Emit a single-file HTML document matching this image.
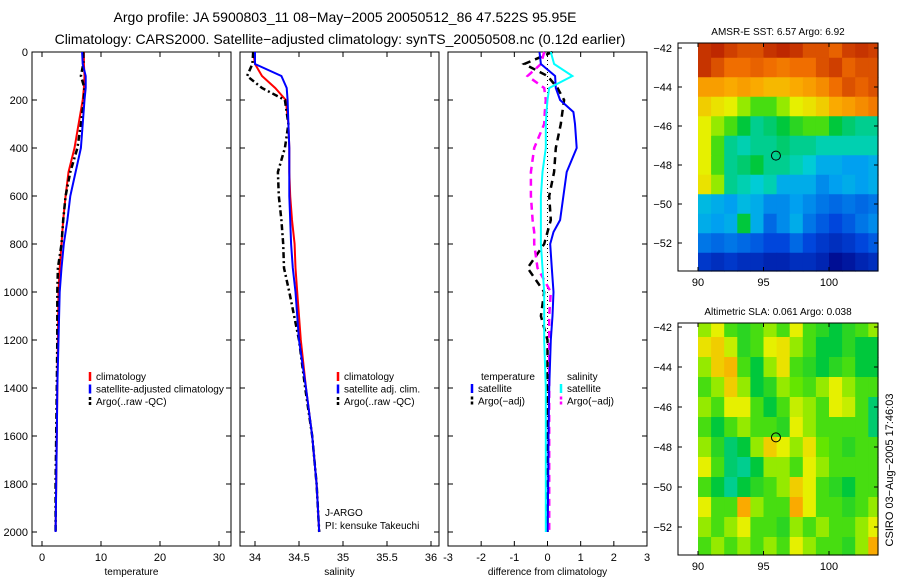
<!DOCTYPE html>
<html><head><meta charset="utf-8"><style>
body{margin:0;background:#fff}
svg text{font-family:"Liberation Sans",sans-serif;fill:#000}
</style></head><body>
<svg id="c" width="900" height="580" xmlns="http://www.w3.org/2000/svg">
<text x="345" y="22" font-size="14" text-anchor="middle">Argo profile: JA 5900803_11 08−May−2005 20050512_86 47.522S 95.95E</text>
<text x="340" y="44" font-size="14" text-anchor="middle">Climatology: CARS2000. Satellite−adjusted climatology: synTS_20050508.nc (0.12d earlier)</text>
<g id="g"></g>
</svg>
<script>
const depths=[0,50,100,150,200,300,400,500,600,700,800,900,1000,1200,1400,1600,1800,2000];
const tempClim=[7.1,7.1,7.2,7.1,6.9,6.2,5.5,4.5,4.0,3.6,3.3,3.0,2.8,2.7,2.6,2.5,2.4,2.3];
const tempSat=[6.8,6.9,7.4,7.4,7.2,6.9,6.6,5.7,4.8,4.3,3.7,3.3,3.0,2.8,2.6,2.5,2.4,2.3];
const tempArgo=[7.0,7.0,6.6,7.2,7.1,6.6,6.0,4.8,4.0,3.6,3.3,2.7,2.6,2.6,2.5,2.4,2.3,2.3];
const salClim=[33.98,34.0,34.08,34.23,34.35,34.38,34.39,34.39,34.4,34.42,34.45,34.46,34.48,34.52,34.58,34.65,34.7,34.73];
const salSat=[34.0,34.0,34.3,34.36,34.37,34.38,34.39,34.39,34.39,34.4,34.41,34.43,34.46,34.5,34.58,34.65,34.7,34.73];
const salArgo=[33.98,33.97,33.91,34.08,34.34,34.38,34.34,34.26,34.27,34.3,34.32,34.33,34.39,34.5,34.57,34.65,34.7,34.73];
const diffDepths=[0,50,100,150,200,250,300,400,500,600,700,750,800,900,1000,1100,1200,1400,1600,1800,2000];
const dTempSat=[-0.24,-0.2,0.23,0.25,0.38,0.78,0.83,0.88,0.58,0.48,0.38,0.18,0.08,0.13,0.18,0.15,0.1,0.05,0.03,0.02,0.0];
const dTempArgo=[0.15,-0.7,0.0,0.3,0.5,0.45,0.4,0.25,0.2,0.05,0.1,0.0,-0.1,-0.6,-0.1,-0.2,0.0,0.0,0.0,0.0,0.0];
const dSalSat=[0.1,0.2,0.75,0.05,0.0,-0.03,-0.05,-0.05,-0.15,-0.2,-0.2,-0.2,-0.2,-0.15,-0.1,-0.1,-0.1,-0.05,-0.05,-0.05,-0.05];
const dSalArgo=[-0.1,-0.2,-0.6,-0.1,-0.05,-0.08,-0.1,-0.4,-0.5,-0.5,-0.45,-0.4,-0.4,-0.3,0.1,0.05,0.05,0.05,0.05,0.05,0.05];
const depthTicks=[0,200,400,600,800,1000,1200,1400,1600,1800,2000];
const tempTicks=[0,10,20,30];
const salTicks=[34,34.5,35,35.5,36];
const salTickLabels=["34","34.5","35","35.5","36"];
const diffTicks=[-3,-2,-1,0,1,2,3];
const lonTicks=[90,95,100];
const latTicks=[-42,-44,-46,-48,-50,-52];
const sstGrid=[
[.9,.92,.88,.85,.85,.9,.92,.9,.85,.85,.82,.88,.9,.88],
[.9,.85,.8,.8,.82,.8,.78,.8,.8,.85,.88,.82,.85,.85],
[.72,.72,.7,.72,.7,.68,.68,.7,.72,.75,.8,.85,.82,.85],
[.65,.62,.6,.55,.5,.5,.55,.6,.62,.65,.7,.72,.75,.78],
[.6,.55,.5,.45,.4,.42,.45,.48,.5,.5,.45,.42,.4,.4],
[.6,.5,.4,.38,.4,.4,.42,.4,.4,.38,.38,.38,.38,.38],
[.6,.5,.4,.42,.45,.4,.4,.38,.35,.3,.3,.28,.28,.3],
[.62,.55,.4,.38,.35,.38,.3,.3,.3,.25,.28,.3,.28,.3],
[.32,.3,.28,.32,.3,.25,.25,.28,.25,.22,.2,.22,.2,.22],
[.3,.28,.3,.45,.3,.2,.25,.3,.22,.18,.15,.18,.22,.25],
[.22,.2,.22,.2,.18,.15,.15,.2,.15,.12,.1,.12,.15,.18],
[.12,.1,.12,.1,.1,.08,.08,.1,.1,.08,.03,.05,.08,.1]];
const slaGrid=[
[.55,.6,.5,.48,.5,.55,.5,.6,.5,.48,.45,.48,.5,.55],
[.62,.65,.58,.48,.5,.6,.62,.55,.5,.45,.45,.48,.45,.45],
[.55,.65,.68,.5,.45,.55,.62,.5,.48,.45,.48,.5,.45,.45],
[.5,.55,.65,.55,.45,.48,.55,.52,.5,.55,.6,.55,.5,.5],
[.55,.5,.6,.6,.5,.45,.5,.58,.55,.5,.6,.58,.5,.42],
[.5,.45,.5,.55,.5,.5,.48,.6,.55,.5,.5,.5,.5,.42],
[.55,.48,.42,.45,.55,.65,.6,.55,.62,.52,.5,.48,.5,.5],
[.6,.5,.42,.4,.45,.55,.55,.5,.6,.55,.5,.5,.5,.5],
[.5,.45,.4,.45,.48,.5,.55,.65,.6,.5,.48,.45,.5,.5],
[.6,.5,.5,.7,.55,.5,.5,.7,.6,.5,.5,.48,.5,.55],
[.55,.5,.55,.6,.5,.5,.48,.55,.5,.55,.5,.5,.55,.6],
[.5,.55,.5,.55,.5,.55,.5,.6,.55,.5,.5,.48,.55,.7]];
const argoLon=95.95, argoLat=-47.52;

const NS='http://www.w3.org/2000/svg';
const G=document.getElementById('g');
function mk(t,a,p){const e=document.createElementNS(NS,t);for(const k in a)e.setAttribute(k,a[k]);(p||G).appendChild(e);return e;}
function lin(d0,d1,r0,r1){return v=>r0+(v-d0)*(r1-r0)/(d1-d0);}
const Y=lin(0,2000,52,532);
const TOP=52,BOT=546;

function panel(name,x0,x1,X,ticks,labels,xlabel,leftLabels){
  const g=mk('g',{});
  
  
  mk('rect',{x:x0,y:TOP,width:x1-x0,height:BOT-TOP,fill:'none',stroke:'#000','stroke-width':1},g);
  ticks.forEach((t,i)=>{const x=X(t);
    mk('line',{x1:x,x2:x,y1:TOP,y2:TOP+5,stroke:'#000'},g);
    mk('line',{x1:x,x2:x,y1:BOT,y2:BOT-5,stroke:'#000'},g);
    const tx=mk('text',{x:x,y:BOT+15,'font-size':11,'text-anchor':'middle'},g);tx.textContent=labels[i];
    
    
  });
  depthTicks.forEach(d=>{const y=Y(d);
    mk('line',{x1:x0,x2:x0+5,y1:y,y2:y,stroke:'#000'},g);
    mk('line',{x1:x1,x2:x1-5,y1:y,y2:y,stroke:'#000'},g);
    if(leftLabels){const t=mk('text',{x:x0-4,y:y+4,'font-size':11,'text-anchor':'end'},g);t.textContent=d;
      
      }
  });
  const xl=mk('text',{x:(x0+x1)/2,y:BOT+29,'font-size':10,'text-anchor':'middle'},g);xl.textContent=xlabel;
  
  
  return g;
}
function series(g,name,vals,dep,X,Yf,color,w,dash){
  const pts=vals.map((v,i)=>X(v).toFixed(1)+','+Yf(dep[i]).toFixed(1)).join(' ');
  const p=mk('polyline',{points:pts,fill:'none',stroke:color,'stroke-width':w},g);
  if(dash)p.setAttribute('stroke-dasharray',dash);
  
  
}
function legend(g,items,lx,ty){
  items.forEach((it,i)=>{const y=ty+i*12.5;
    const l=mk('line',{x1:lx,x2:lx,y1:y-8,y2:y+1,stroke:it[1],'stroke-width':2.5},g);
    if(it[2])l.setAttribute('stroke-dasharray','3,2');
    const t=mk('text',{x:lx+6,y:y,'font-size':10},g);t.textContent=it[0];
    
    
  });
}
const X1=lin(0,30,42,219);
const g1=panel('temperature-panel',32,231,X1,tempTicks,tempTicks.map(String),'temperature',true);
series(g1,'temp-climatology-line',tempClim,depths,X1,Y,'#f00',2);
series(g1,'temp-argo-line',tempArgo,depths,X1,Y,'#000',2.5,'6,3,2,3');
series(g1,'temp-satellite-line',tempSat,depths,X1,Y,'#00f',2);
legend(g1,[['climatology','#f00'],['satellite-adjusted climatology','#00f'],['Argo(..raw -QC)','#000',1]],90,380);
const X2=lin(34,36,255,431);
const g2=panel('salinity-panel',240,439,X2,salTicks,salTickLabels,'salinity',false);
series(g2,'sal-climatology-line',salClim,depths,X2,Y,'#f00',2);
series(g2,'sal-argo-line',salArgo,depths,X2,Y,'#000',2.5,'6,3,2,3');
series(g2,'sal-satellite-line',salSat,depths,X2,Y,'#00f',2);
legend(g2,[['climatology','#f00'],['satellite adj. clim.','#00f'],['Argo(..raw -QC)','#000',1]],338,380);
let t=mk('text',{x:325,y:516,'font-size':10},g2);t.textContent='J-ARGO';


t=mk('text',{x:325,y:529,'font-size':10},g2);t.textContent='PI: kensuke Takeuchi';


const X3=lin(-3,3,448,647);
const g3=panel('difference-panel',448,647,X3,diffTicks,diffTicks.map(String),'difference from climatology',false);
mk('line',{x1:X3(0),x2:X3(0),y1:TOP,y2:Y(2000),stroke:'#000','stroke-dasharray':'1,3'},g3);
series(g3,'diff-temp-argo-line',dTempArgo,diffDepths,X3,Y,'#000',2.5,'7,5');
series(g3,'diff-sal-argo-line',dSalArgo,diffDepths,X3,Y,'#f0f',2.5,'7,5');
series(g3,'diff-temp-satellite-line',dTempSat,diffDepths,X3,Y,'#00f',2);
series(g3,'diff-sal-satellite-line',dSalSat,diffDepths,X3,Y,'#0ff',2);
t=mk('text',{x:481,y:380,'font-size':10},g3);t.textContent='temperature';


t=mk('text',{x:567,y:380,'font-size':10},g3);t.textContent='salinity';


legend(g3,[['satellite','#00f'],['Argo(−adj)','#000',1]],472,392);
legend(g3,[['satellite','#0ff'],['Argo(−adj)','#f0f',1]],561,392);

const CMAP=[[0,[0,0,130]],[0.15,[0,70,220]],[0.28,[0,160,240]],[0.36,[0,210,210]],[0.45,[0,200,60]],[0.52,[100,230,0]],[0.6,[230,240,0]],[0.7,[250,170,0]],[0.8,[240,110,0]],[0.92,[190,40,0]],[1,[150,0,0]]];
function cmap(v){for(let i=1;i<CMAP.length;i++){if(v<=CMAP[i][0]){const a=CMAP[i-1],b=CMAP[i],f=(v-a[0])/(b[0]-a[0]);
  return 'rgb('+a[1].map((c,k)=>Math.round(c+(b[1][k]-c)*f)).join(',')+')';}}return 'rgb(150,0,0)';}
function map(name,grid,y0,y1,lat42,lat52,title){
  const g=mk('g',{});
  
  
  const LX=lin(90,100,698,829), LY=lin(-42,-52,lat42,lat52);
  const x0=678,x1=878;
  grid.forEach((row,j)=>row.forEach((v,i)=>{
    const xa=LX(90+i), xb=Math.min(x1,LX(91+i));
    const ya=Math.max(y0,LY(-41.5-j)), yb=Math.min(y1,LY(-42.5-j));
    const r=mk('rect',{x:xa,y:ya,width:xb-xa+0.6,height:yb-ya+0.6,fill:cmap(v)},g);
    
    
  }));
  mk('rect',{x:x0,y:y0,width:x1-x0,height:y1-y0,fill:'none',stroke:'#000'},g);
  lonTicks.forEach(l=>{const x=LX(l);
    mk('line',{x1:x,x2:x,y1:y0,y2:y0+4,stroke:'#000'},g);mk('line',{x1:x,x2:x,y1:y1,y2:y1-4,stroke:'#000'},g);
    const tt=mk('text',{x:x,y:y1+15,'font-size':11,'text-anchor':'middle'},g);tt.textContent=l;
    
    });
  latTicks.forEach(l=>{const y=LY(l);
    mk('line',{x1:x0,x2:x0+4,y1:y,y2:y,stroke:'#000'},g);mk('line',{x1:x1,x2:x1-4,y1:y,y2:y,stroke:'#000'},g);
    const tt=mk('text',{x:x0-6,y:y+4,'font-size':11,'text-anchor':'end'},g);tt.textContent='−'+(-l);
    
    });
  const c=mk('circle',{cx:LX(argoLon),cy:LY(argoLat),r:4.5,fill:'none',stroke:'#000','stroke-width':1},g);
  
  
  const tt=mk('text',{x:778,y:y0-8,'font-size':10,'text-anchor':'middle'},g);tt.textContent=title;
  
  
}
map('sst-map',sstGrid,43,271,48,243,'AMSR-E SST: 6.57 Argo: 6.92');
map('sla-map',slaGrid,323,555,327,527,'Altimetric SLA: 0.061 Argo: 0.038');
t=mk('text',{x:0,y:0,'font-size':11,'text-anchor':'middle',transform:'translate(893,470) rotate(-90)'});
t.textContent='CSIRO 03−Aug−2005 17:46:03';


</script>
</body></html>
